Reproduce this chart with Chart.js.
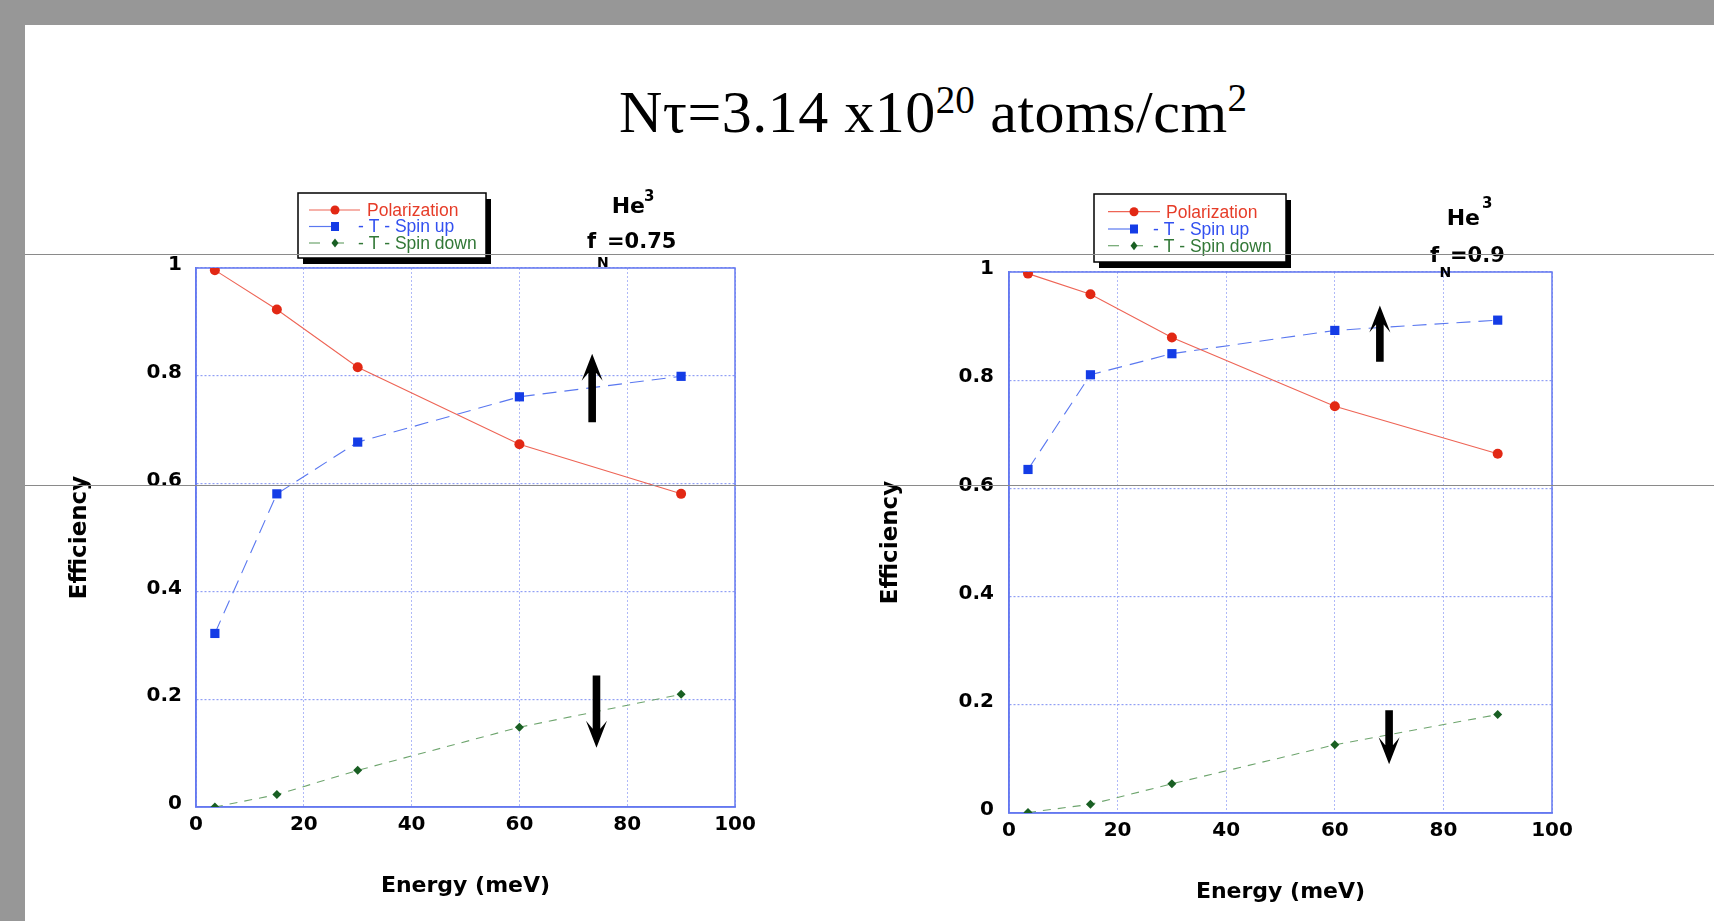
<!DOCTYPE html>
<html>
<head>
<meta charset="utf-8">
<script src="https://cdn.jsdelivr.net/npm/chart.js@4"></script>
<style>
  html, body { margin: 0; padding: 0; }
  body { width: 1714px; height: 921px; background: #979797; position: relative; overflow: hidden; }
  #page { position: absolute; left: 25px; top: 25px; right: 0; bottom: 0; background: #fff; }
  #title { position: absolute; left: 619px; top: 82px; font-family: "Liberation Serif", "Times New Roman", serif;
           font-size: 60px; line-height: 60px; white-space: nowrap; color: #000; letter-spacing: 0.5px; }
  #title .sup { font-size: 39px; position: relative; top: -19px; letter-spacing: 0; }
  #title .sup2 { font-size: 39px; position: relative; top: -21px; }
  canvas { position: absolute; }
  #left { left: 30px; top: 180px; }
  #right { left: 840px; top: 180px; }
  .rule { position: absolute; left: 25px; right: 0; height: 1px; background: #8a8a8a; z-index: 5; }
</style>
</head>
<body>
<div id="page"></div>
<div id="title">Nτ=3.14 x10<span class="sup">20</span> atoms/cm<span class="sup2">2</span></div>
<canvas id="left" width="780" height="735"></canvas>
<canvas id="right" width="870" height="740"></canvas>
<div class="rule" style="top:254px"></div>
<div class="rule" style="top:485px"></div>
<script>
// energies (meV) shared by both panels
const energy = [3.5, 15, 30, 60, 90]

// f_N = 0.75
const polarization75 = [0.996, 0.923, 0.816, 0.673, 0.581]
const spinUp75 = [0.322, 0.581, 0.677, 0.761, 0.799]
const spinDown75 = [0.0, 0.023, 0.068, 0.148, 0.209]

// f_N = 0.9
const polarization90 = [0.997, 0.959, 0.879, 0.752, 0.664]
const spinUp90 = [0.635, 0.810, 0.849, 0.892, 0.911]
const spinDown90 = [0.001, 0.016, 0.054, 0.126, 0.182]

const seriesNames = ['Polarization', '- T - Spin up', '- T - Spin down']
const xTickLabels = ['0', '20', '40', '60', '80', '100']
const yTickLabels = ['0', '0.2', '0.4', '0.6', '0.8', '1']

const RED = 'rgb(226,40,20)'
const BLUE = 'rgb(20,60,230)'
const GREEN = 'rgb(25,95,35)'
const FRAME = 'rgb(100,120,240)'
const TEXT_COLORS = ['rgb(230,60,40)', 'rgb(50,80,240)', 'rgb(50,120,55)']

function pts(ys) {
  return energy.map((e, i) => ({ x: e, y: ys[i] }))
}

function makeDatasets(pol, up, down) {
  return [
    {
      label: seriesNames[0], data: pts(pol),
      borderColor: 'rgb(238,100,85)', borderWidth: 1.1,
      pointStyle: 'circle', pointRadius: 5, pointBackgroundColor: RED, pointBorderColor: RED, pointBorderWidth: 0
    },
    {
      label: seriesNames[1], data: pts(up),
      borderColor: 'rgb(90,120,240)', borderWidth: 1.1, borderDash: [14, 8],
      pointStyle: 'rect', pointRadius: 6.5, pointBackgroundColor: BLUE, pointBorderColor: BLUE, pointBorderWidth: 0
    },
    {
      label: seriesNames[2], data: pts(down),
      borderColor: 'rgb(110,165,110)', borderWidth: 1.1, borderDash: [8, 7],
      pointStyle: 'rectRot', pointRadius: 4.5, pointBackgroundColor: GREEN, pointBorderColor: GREEN, pointBorderWidth: 0
    }
  ]
}

function drawArrow(ctx, x, yTail, yTip) {
  const d = yTip < yTail ? -1 : 1
  ctx.beginPath()
  ctx.moveTo(x, yTip)
  ctx.lineTo(x + 10.5, yTip - d * 27)
  ctx.lineTo(x + 3.8, yTip - d * 19)
  ctx.lineTo(x + 3.8, yTail)
  ctx.lineTo(x - 3.8, yTail)
  ctx.lineTo(x - 3.8, yTip - d * 19)
  ctx.lineTo(x - 10.5, yTip - d * 27)
  ctx.closePath()
  ctx.fillStyle = '#000'
  ctx.fill()
}

function drawMarker(ctx, style, x, y, color) {
  ctx.fillStyle = color
  ctx.beginPath()
  if (style === 'circle') ctx.arc(x, y, 4.5, 0, Math.PI * 2)
  else if (style === 'rect') ctx.rect(x - 4, y - 4.5, 8, 9)
  else { ctx.moveTo(x, y - 4.5); ctx.lineTo(x + 3.5, y); ctx.lineTo(x, y + 4.5); ctx.lineTo(x - 3.5, y) }
  ctx.fill()
}

function segment(ctx, x1, x2, y) {
  ctx.beginPath()
  ctx.moveTo(x1, y)
  ctx.lineTo(x2, y)
  ctx.stroke()
}

const decor = {
  id: 'decor',
  beforeDatasetsDraw(chart) {
    const { ctx, chartArea: a } = chart
    ctx.save()
    ctx.strokeStyle = FRAME
    ctx.lineWidth = 1.5
    ctx.strokeRect(a.left, a.top, a.right - a.left, a.bottom - a.top)
    ctx.restore()
  },
  afterDraw(chart, args, o) {
    const { ctx, chartArea: a, scales } = chart
    ctx.save()

    // legend box with drop shadow
    const L = o.legend
    const bx = a.left + L.dx, by = a.top + L.dy
    ctx.fillStyle = '#000'
    ctx.fillRect(bx + 5, by + 6, L.w, L.h)
    ctx.fillStyle = '#fff'
    ctx.fillRect(bx, by, L.w, L.h)
    ctx.strokeStyle = '#000'
    ctx.lineWidth = 1.5
    ctx.strokeRect(bx, by, L.w, L.h)
    chart.data.datasets.forEach((ds, i) => {
      const y = by + L.rows[i]
      const x0 = bx + L.line[0], xm = bx + L.mark
      ctx.save()
      ctx.strokeStyle = ds.borderColor
      ctx.lineWidth = 1.2
      if (i === 0) segment(ctx, x0, bx + L.line[1], y)
      else if (i === 1) segment(ctx, x0, xm, y)
      else { segment(ctx, x0, x0 + 11, y); segment(ctx, xm + 3, xm + 9, y) }
      ctx.restore()
      drawMarker(ctx, ds.pointStyle, xm, y, ds.pointBackgroundColor)
      ctx.fillStyle = TEXT_COLORS[i]
      ctx.font = '17.5px "Liberation Sans", Arial, sans-serif'
      ctx.textBaseline = 'middle'
      ctx.fillText(ds.label, bx + L.text[i], y + 1)
    })

    // He^3 / f_N label
    const T = o.note
    ctx.fillStyle = '#000'
    ctx.textBaseline = 'alphabetic'
    ctx.font = 'bold 22px "DejaVu Sans", sans-serif'
    ctx.fillText('He', a.left + T.he[0], a.top + T.he[1])
    ctx.font = 'bold 15px "DejaVu Sans", sans-serif'
    ctx.fillText('3', a.left + T.sup[0], a.top + T.sup[1])
    ctx.font = 'bold 21px "DejaVu Sans", sans-serif'
    ctx.fillText('f', a.left + T.f[0], a.top + T.f[1])
    ctx.fillText(T.value, a.left + T.eq[0], a.top + T.f[1])
    ctx.font = 'bold 14px "DejaVu Sans", sans-serif'
    ctx.fillText('N', a.left + T.sub[0], a.top + T.sub[1])

    // spin arrows, placed in data coordinates
    o.arrows.forEach(ar => {
      drawArrow(ctx, scales.x.getPixelForValue(ar.x), scales.y.getPixelForValue(ar.from), scales.y.getPixelForValue(ar.to))
    })
    ctx.restore()
  }
}

function makeChart(id, datasets, cfg) {
  const tickFont = { family: '"DejaVu Sans", sans-serif', weight: 'bold', size: 20 }
  return new Chart(document.getElementById(id), {
    type: 'line',
    data: { datasets },
    plugins: [decor],
    options: {
      responsive: false,
      animation: false,
      devicePixelRatio: 1,
      layout: { padding: { left: 0, top: cfg.padTop, right: cfg.padRight, bottom: 0 } },
      plugins: {
        legend: { display: false },
        tooltip: { enabled: false },
        decor: cfg.decor
      },
      elements: { line: { tension: 0, fill: false } },
      scales: {
        x: {
          type: 'linear', min: 0, max: 100,
          ticks: { stepSize: 20, padding: 6, color: '#000', font: tickFont, callback: (v, i) => xTickLabels[i] },
          grid: { color: 'rgb(175,185,248)', lineWidth: 1, drawTicks: false },
          border: { display: true, color: FRAME, width: 1.5, dash: [2, 2] },
          title: { display: true, text: 'Energy (meV)', color: '#000', padding: { top: 0, bottom: cfg.xTitlePad },
            font: { family: '"DejaVu Sans", sans-serif', weight: 'bold', size: 22 } },
          afterFit: s => { s.height = cfg.xHeight }
        },
        y: {
          type: 'linear', min: 0, max: 1,
          ticks: { stepSize: 0.2, padding: cfg.yTickPad, labelOffset: -3, color: '#000', font: tickFont, callback: (v, i) => yTickLabels[i] },
          grid: { color: 'rgb(145,160,245)', lineWidth: 1.2, drawTicks: false },
          border: { display: true, color: FRAME, width: 1.5, dash: [2, 2] },
          title: { display: true, text: 'Efficiency', color: '#000', padding: { top: cfg.yTitlePad, bottom: 0 },
            font: { family: '"DejaVu Sans", sans-serif', weight: 'bold', size: 23 } },
          afterFit: s => { s.width = cfg.yWidth }
        }
      }
    }
  })
}

makeChart('left', makeDatasets(polarization75, spinUp75, spinDown75), {
  padTop: 88, padRight: 75, xHeight: 108, yWidth: 166, xTitlePad: 16, yTitlePad: 36, yTickPad: 14,
  decor: {
    legend: { dx: 102, dy: -75, w: 188, h: 65, rows: [17, 33.5, 50], line: [11, 62], mark: 37, text: [69, 60, 60] },
    note: { he: [415.7, -54.7], sup: [448, -67.5], f: [391, -20], eq: [411, -20], sub: [401, -1], value: '=0.75' },
    arrows: [{ x: 73.5, from: 0.714, to: 0.841 }, { x: 74.3, from: 0.244, to: 0.110 }]
  }
})

makeChart('right', makeDatasets(polarization90, spinUp90, spinDown90), {
  padTop: 92, padRight: 158, xHeight: 107, yWidth: 169, xTitlePad: 14.4, yTitlePad: 37, yTickPad: 15,
  decor: {
    legend: { dx: 85, dy: -78, w: 192, h: 68, rows: [17.7, 35, 51.7], line: [14, 66], mark: 40, text: [72, 59, 59] },
    note: { he: [437.7, -47], sup: [473, -64], f: [421, -10.3], eq: [441, -10.3], sub: [430.5, 5], value: '=0.9' },
    arrows: [{ x: 68.3, from: 0.834, to: 0.938 }, { x: 70.0, from: 0.190, to: 0.090 }]
  }
})
</script>
</body>
</html>
